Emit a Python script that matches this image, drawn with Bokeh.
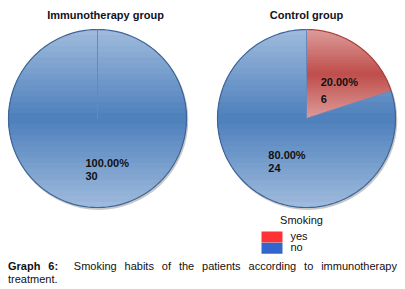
import numpy as np
from bokeh.plotting import figure
from bokeh.models import Range1d, Div
from bokeh.layouts import column
from bokeh.core.properties import value
from bokeh.embed import file_html
from bokeh.resources import INLINE

# ---------------- data ----------------
categories = ["yes", "no"]
immuno_values = [0, 30]
control_values = [6, 24]
group_titles = ["Immunotherapy group", "Control group"]
legend_title = "Smoking"
caption_bold = "Graph 6:"
caption_text = "Smoking habits of the patients according to immunotherapy treatment."

# ---------------- style ----------------
FONT = value("Liberation Sans")
light = {"yes": np.array([220, 154, 152]), "no": np.array([157, 185, 219])}
dark = {"yes": np.array([192, 80, 77]), "no": np.array([79, 129, 189])}
edge = {"yes": "#a8423f", "no": "#3f6698"}
legend_colors = {"yes": "#ff3333", "no": "#3366cc"}
centers = [(97.0, 118.0), (306.0, 118.0)]
R = 89.0
N_LEVELS = 16

p = figure(width=405, height=258, x_range=Range1d(0, 405), y_range=Range1d(258, 0),
           output_backend="svg", toolbar_location=None, min_border=0,
           x_axis_location=None, y_axis_location=None)
p.grid.visible = False
p.outline_line_color = None
p.background_fill_color = "white"
p.border_fill_color = "white"


def hexc(c):
    c = np.clip(np.round(c), 0, 255).astype(int)
    return "#%02x%02x%02x" % tuple(c)


def clip_half(pts, keep, inter):
    out = []
    n = len(pts)
    for i in range(n):
        a = pts[i]
        b = pts[(i + 1) % n]
        ka, kb = keep(a), keep(b)
        if ka:
            out.append(a)
            if not kb:
                out.append(inter(a, b))
        elif kb:
            out.append(inter(a, b))
    return out


def clip_strip(pts, y0, y1):
    def ix(a, b, yy):
        t = (yy - a[1]) / (b[1] - a[1])
        return (a[0] + t * (b[0] - a[0]), yy)
    pts = clip_half(pts, lambda q: q[1] >= y0, lambda a, b: ix(a, b, y0))
    if not pts:
        return pts
    pts = clip_half(pts, lambda q: q[1] <= y1, lambda a, b: ix(a, b, y1))
    return pts


def slice_poly(cx, cy, a0, a1):
    # angles in degrees, going clockwise from a0 down to a1
    th = np.radians(np.linspace(a0, a1, 181))
    xs = cx + R * np.cos(th)
    ys = cy - R * np.sin(th)
    pts = [(cx, cy)] + list(zip(xs, ys))
    return pts


for gi, vals in enumerate([immuno_values, control_values]):
    cx, cy = centers[gi]
    total = float(sum(vals))
    # shadow
    p.circle(x=[cx + 1.2], y=[cy + 1.8], radius=R + 0.6, fill_color="#000000",
             fill_alpha=0.22, line_color=None)
    start = 90.0
    label_x, label_y, pct_txt, cnt_txt = [], [], [], []
    radial_x, radial_y = [], []
    for cat, v in zip(categories, vals):
        frac = v / total
        end = start - 360.0 * frac
        if v > 0:
            pts = slice_poly(cx, cy, start, end)
            ys_all = [q[1] for q in pts]
            ytop, ybot = min(ys_all), max(ys_all)
            mid = (ytop + ybot) / 2.0
            half = (ybot - ytop) / 2.0
            pxs, pys, cols = [], [], []
            for i in range(N_LEVELS):
                h = half * (1.0 - i / N_LEVELS) + (0.5 if i == 0 else 0.0)
                sub = clip_strip(pts, mid - h, mid + h)
                if len(sub) < 3:
                    continue
                t = i / (N_LEVELS - 1)
                col = light[cat] + (dark[cat] - light[cat]) * t
                pxs.append([q[0] for q in sub])
                pys.append([q[1] for q in sub])
                cols.append(hexc(col))
            p.patches(xs=pxs, ys=pys, fill_color=cols, line_color=None)
            # outer arc
            th = np.radians(np.linspace(start, end, 181))
            p.line(x=cx + R * np.cos(th), y=cy - R * np.sin(th),
                   line_color=edge[cat], line_width=1.2)
            mid_a = np.radians((start + end) / 2.0)
            label_x.append(cx + 0.5 * R * np.cos(mid_a))
            label_y.append(cy - 0.5 * R * np.sin(mid_a))
            pct_txt.append("%.2f%%" % (100.0 * frac))
            cnt_txt.append(str(v))
        # radial boundary at start
        ra = np.radians(start)
        radial_x.append([cx, cx + R * np.cos(ra)])
        radial_y.append([cy, cy - R * np.sin(ra)])
        start = end
    p.multi_line(xs=radial_x, ys=radial_y, line_color="#6788bb", line_width=1.0)
    p.text(x=label_x, y=label_y, text=pct_txt, text_font=FONT, text_font_size="11px",
           text_font_style="bold", text_color="#111111", text_align="left",
           text_baseline="middle", x_offset=-12)
    gap = [13 if c != "6" else 17 for c in cnt_txt]
    for lx, ly, ct, g in zip(label_x, label_y, cnt_txt, gap):
        p.text(x=[lx], y=[ly], text=[ct], text_font=FONT, text_font_size="11px",
               text_font_style="bold", text_color="#111111", text_align="left",
               text_baseline="middle", x_offset=-12, y_offset=g)
    p.text(x=[cx + 8 if gi == 0 else cx], y=[14], text=[group_titles[gi]], text_font=FONT,
           text_font_size="11px", text_font_style="bold", text_color="#111122",
           text_align="center", text_baseline="middle")

# legend
p.text(x=[301], y=[219], text=[legend_title], text_font=FONT, text_font_size="11px",
       text_color="#111111", text_align="center", text_baseline="middle")
leg_y = [236.5, 247.8]
p.rect(x=[271.5] * len(categories), y=leg_y, width=21, height=11,
       fill_color=[legend_colors[c] for c in categories], line_color=None)
p.text(x=[290] * len(categories), y=[leg_y[0] - 1.5, leg_y[1] - 1.5], text=categories,
       text_font=FONT, text_font_size="11px", text_color="#111111", text_align="left",
       text_baseline="middle")

cap = Div(text="<b>%s</b>&nbsp; %s" % (caption_bold, caption_text), width=389, height=31,
          margin=(2, 0, 0, 8),
          styles={"font-family": "Liberation Sans", "font-size": "11px",
                  "text-align": "justify", "line-height": "13px", "color": "#111111"})

layout = column(p, cap, spacing=0)
open("out.html", "w").write(file_html(layout, INLINE))
